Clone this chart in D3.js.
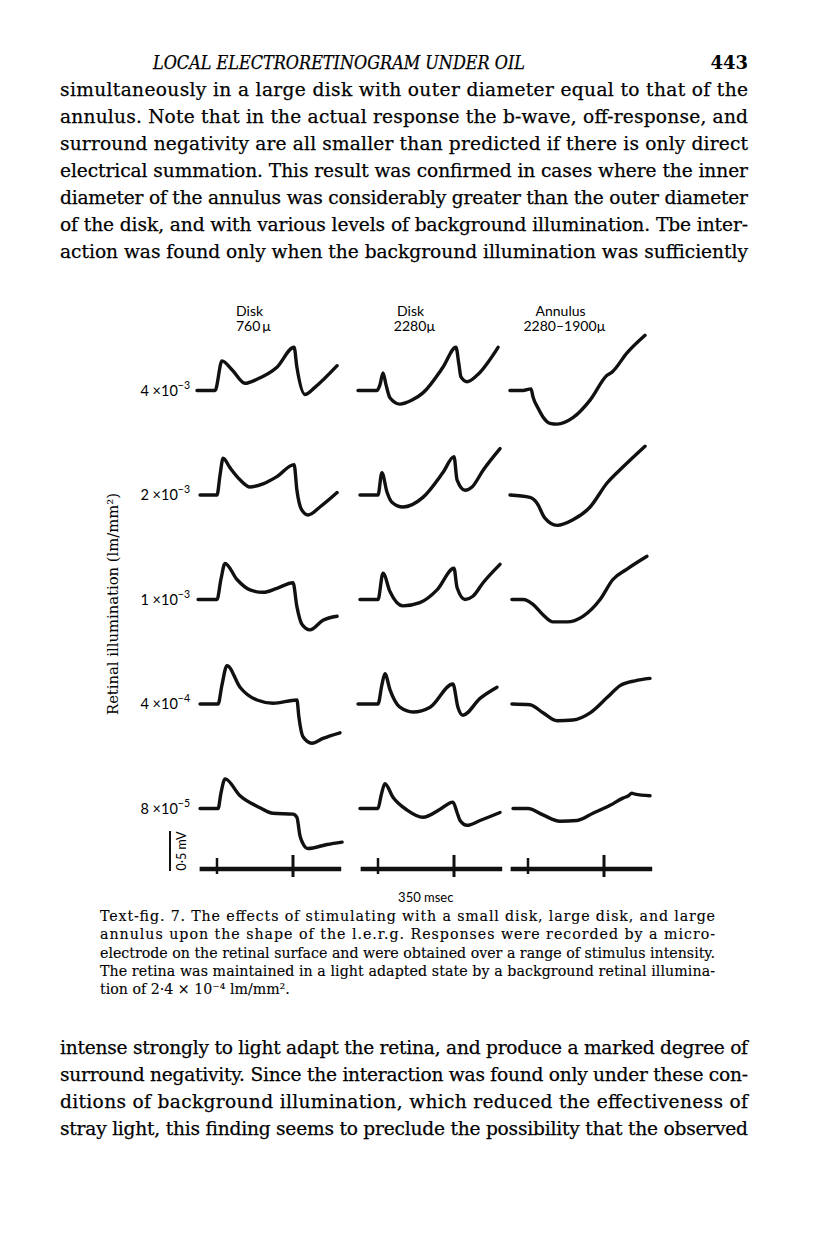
<!DOCTYPE html>
<html>
<head>
<meta charset="utf-8">
<script src="https://cdn.jsdelivr.net/npm/d3@7"></script>
<style>
  body { margin: 0; background: #fff; }
</style>
</head>
<body>
<div id="container"></div>
<script>
// stimulus conditions (columns) and background levels (rows)
var columns = ["disk760", "disk2280", "annulus"];
var colHead1 = ["Disk", "Disk", "Annulus"];
var colHead2 = ["760\u2009\u00b5", "2280\u00b5", "2280\u20131900\u00b5"];
var rowMant = ["4", "2", "1", "4", "8"];
var rowExp = ["\u22123", "\u22123", "\u22123", "\u22124", "\u22125"];

// responses: [msec from stimulus onset, mV], one array per row
var disk760 = [
  [[-92,0],[-9,0],[23,0.37],[69,0.26],[129,0.09],[184,0.14],[276,0.29],[355,0.54],[368,0.29],[405,-0.05],[451,0.04],[553,0.31]],
  [[-78,0],[0,0],[14,0.25],[28,0.46],[60,0.34],[106,0.19],[152,0.10],[212,0.14],[276,0.23],[355,0.38],[368,0.06],[391,-0.19],[419,-0.25],[474,-0.15],[553,0.03]],
  [[-87,0],[0,0],[18,0.25],[37,0.45],[92,0.25],[152,0.12],[212,0.09],[276,0.14],[350,0.21],[368,-0.09],[391,-0.31],[428,-0.38],[488,-0.26],[553,-0.21]],
  [[-78,0],[5,0],[23,0.24],[46,0.48],[106,0.21],[184,0.05],[258,0.01],[368,0.05],[377,-0.16],[396,-0.41],[437,-0.49],[488,-0.43],[566,-0.36]],
  [[-78,0],[5,0],[18,0.19],[37,0.37],[106,0.16],[198,0.01],[258,-0.06],[350,-0.07],[368,-0.11],[382,-0.34],[396,-0.44],[419,-0.50],[507,-0.45],[576,-0.42]]
];
var disk2280 = [
  [[-92,0],[-5,0],[9,0.07],[23,0.22],[37,0.07],[55,-0.09],[101,-0.17],[157,-0.12],[207,-0.03],[299,0.29],[359,0.54],[373,0.32],[382,0.17],[410,0.11],[456,0.19],[553,0.54]],
  [[-83,0],[0,0],[18,0.28],[41,0.04],[64,-0.09],[115,-0.15],[207,-0.03],[299,0.28],[350,0.48],[364,0.19],[401,0.06],[433,0.10],[484,0.31],[562,0.58]],
  [[-83,0],[0,0],[23,0.33],[55,0.10],[115,-0.08],[193,-0.04],[272,0.12],[350,0.39],[364,0.15],[401,0],[437,0.04],[484,0.21],[562,0.44]],
  [[-92,0],[0,0],[18,0.24],[32,0.38],[55,0.18],[101,-0.04],[161,-0.10],[240,-0.04],[345,0.25],[368,-0.04],[391,-0.14],[470,0.07],[548,0.21]],
  [[-83,0],[0,0],[14,0.16],[32,0.31],[69,0.14],[134,-0.02],[207,-0.11],[286,-0.01],[345,0.08],[364,-0.05],[378,-0.15],[410,-0.21],[470,-0.15],[562,-0.05]]
];
var annulus = [
  [[-83,0],[-23,0],[14,0.02],[23,-0.08],[46,-0.22],[69,-0.33],[101,-0.41],[134,-0.42],[207,-0.34],[286,-0.12],[364,0.19],[387,0.23],[456,0.47],[539,0.69]],
  [[-83,0],[9,-0.03],[41,-0.10],[78,-0.29],[134,-0.38],[207,-0.31],[286,-0.15],[364,0.15],[437,0.35],[539,0.61]],
  [[-74,0],[-23,0],[23,-0.06],[69,-0.19],[115,-0.28],[180,-0.28],[253,-0.21],[332,0],[391,0.25],[456,0.38],[548,0.54]],
  [[-74,0],[9,-0.01],[69,-0.11],[134,-0.21],[207,-0.20],[286,-0.11],[364,0.08],[424,0.23],[493,0.29],[562,0.32]],
  [[-69,0],[0,0],[69,-0.08],[147,-0.16],[226,-0.15],[299,-0.06],[378,0.04],[437,0.13],[463,0.16],[478,0.19],[493,0.18],[562,0.16]]
];
var stimMarks = [0, 350];       // msec, light on / off
var stimSpan = [-80, 572];      // msec
var scaleBarMV = 0.5;

var traces = {disk760: disk760, disk2280: disk2280, annulus: annulus};

var headerText = "LOCAL ELECTRORETINOGRAM UNDER OIL";
var topLines = [
  "simultaneously in a large disk with outer diameter equal to that of the",
  "annulus.  Note that in the actual response the b-wave, off-response, and",
  "surround negativity are all smaller than predicted if there is only direct",
  "electrical summation. This result was confirmed in cases where the inner",
  "diameter of the annulus was considerably greater than the outer diameter",
  "of the disk, and with various levels of background illumination. Tbe inter-",
  "action was found only when the background illumination was sufficiently"
];
var captionLines = [
  "Text-fig. 7.  The effects of stimulating with a small disk, large disk, and large",
  "annulus upon the shape of the l.e.r.g.  Responses were recorded by a micro-",
  "electrode on the retinal surface and were obtained over a range of stimulus intensity.",
  "The retina was maintained in a light adapted state by a background retinal illumina-",
  "tion of 2\u00b74 \u00d7 10\u207b\u2074 lm/mm\u00b2."
];
var bottomLines = [
  "intense strongly to light adapt the retina, and produce a marked degree of",
  "surround negativity.  Since the interaction was found only under these con-",
  "ditions of background illumination, which reduced the effectiveness of",
  "stray light, this finding seems to preclude the possibility that the observed"
];

var width = 816, height = 1238;
var serif = "'DejaVu Serif', serif";
var sans = "Lato, 'Open Sans', sans-serif";

var svg = d3.select("#container")
  .append("svg")
    .attr("width", width)
    .attr("height", height);

svg.append("rect").attr("width", width).attr("height", height).attr("fill", "#fff");

// page text
svg.append("text")
  .attr("x", 153).attr("y", 69)
  .attr("textLength", 372).attr("lengthAdjust", "spacingAndGlyphs")
  .style("font-family", serif).style("font-style", "italic").style("font-size", "18px")
  .style("stroke", "#000").style("stroke-width", 0.25)
  .text(headerText);
svg.append("text")
  .attr("x", 748).attr("y", 69).attr("text-anchor", "end")
  .style("font-family", serif).style("font-size", "18px").style("font-weight", "bold")
  .text("443");

function para(lines, x0, len, y0, step, size, lastFull, sw) {
  svg.append("g").selectAll("text")
    .data(lines)
    .enter().append("text")
      .attr("x", x0)
      .attr("y", function(d, i) { return y0 + i * step; })
      .attr("textLength", function(d, i) { return (lastFull || i < lines.length - 1) ? len : null; })
      .attr("lengthAdjust", "spacing")
      .style("font-family", serif).style("font-size", size + "px")
      .style("stroke", "#000").style("stroke-width", sw)
      .text(function(d) { return d; });
}
para(topLines, 60, 688, 96, 27, 18.6, true, 0.25);
para(captionLines, 100, 615, 921, 18.3, 14.2, false, 0.12);
para(bottomLines, 60, 688, 1054, 27, 18.6, true, 0.25);

// figure scales
var x = d3.scaleLinear().domain([0, 350]).range([0, 76]);
var colX = d3.scaleOrdinal().domain(columns).range([217, 378, 528]);
var rowY = d3.scalePoint().domain(d3.range(5)).range([390.5, 808.5]);
var y = d3.scaleLinear().domain([0, 1]).range([0, -80]);
var stimY = 869;

var line = d3.line()
  .x(function(d) { return x(d[0]); })
  .y(function(d) { return y(d[1]); })
  .curve(d3.curveMonotoneX);

// column headings
var heads = svg.append("g").selectAll("g")
  .data(columns)
  .enter().append("g")
    .attr("transform", function(c) { return "translate(" + (colX(c) + x(150)) + ",0)"; })
    .style("font-family", sans).style("font-size", "14px")
    .attr("text-anchor", "middle");
heads.append("text").attr("y", 316).text(function(c, i) { return colHead1[i]; });
heads.append("text").attr("y", 331).attr("dx", 4).text(function(c, i) { return colHead2[i]; });

// row labels
var labels = svg.append("g").selectAll("text")
  .data(rowMant)
  .enter().append("text")
    .attr("x", 190)
    .attr("y", function(d, i) { return rowY(i) + 5; })
    .attr("text-anchor", "end")
    .style("font-family", sans).style("font-size", "14.5px");
labels.append("tspan").text(function(d) { return d + " \u00d710"; });
labels.append("tspan")
  .attr("dy", -7).style("font-size", "10.5px")
  .text(function(d, i) { return rowExp[i]; });

// traces
columns.forEach(function(c) {
  svg.append("g")
    .selectAll("path")
    .data(traces[c])
    .enter().append("path")
      .attr("transform", function(d, i) { return "translate(" + colX(c) + "," + rowY(i) + ")"; })
      .attr("d", line)
      .attr("fill", "none")
      .attr("stroke", "#111")
      .attr("stroke-width", 3.4)
      .attr("stroke-linejoin", "round")
      .attr("stroke-linecap", "round");
});

// stimulus signal
var stim = svg.append("g").selectAll("g")
  .data(columns)
  .enter().append("g")
    .attr("transform", function(c) { return "translate(" + colX(c) + "," + stimY + ")"; });
stim.append("line")
  .attr("x1", x(stimSpan[0])).attr("x2", x(stimSpan[1]))
  .attr("stroke", "#111").attr("stroke-width", 4.5);
stim.selectAll(".tick")
  .data(stimMarks)
  .enter().append("line")
    .attr("class", "tick")
    .attr("x1", x).attr("x2", x)
    .attr("y1", function(d, i) { return i ? -14 : -11; })
    .attr("y2", function(d, i) { return i ? 8 : 5; })
    .attr("stroke", "#111")
    .attr("stroke-width", function(d, i) { return i ? 3 : 2.5; });

svg.append("text")
  .attr("x", colX("disk2280") + x(220)).attr("y", 902)
  .attr("text-anchor", "middle")
  .style("font-family", sans).style("font-size", "13px")
  .text("350 msec");

// voltage scale bar
svg.append("line")
  .attr("x1", 170).attr("x2", 170)
  .attr("y1", stimY + 2).attr("y2", stimY + 2 + y(scaleBarMV))
  .attr("stroke", "#111").attr("stroke-width", 2);
svg.append("text")
  .attr("transform", "translate(186," + (stimY + 2 + y(scaleBarMV / 2)) + ") rotate(-90)")
  .attr("text-anchor", "middle")
  .style("font-family", sans).style("font-size", "12.5px")
  .text("0\u00b75 mV");

// y title
svg.append("text")
  .attr("transform", "translate(118,604) rotate(-90)")
  .attr("text-anchor", "middle")
  .attr("textLength", 222).attr("lengthAdjust", "spacingAndGlyphs")
  .style("font-family", serif).style("font-size", "14px")
  .text("Retinal illumination (lm/mm\u00b2)");
</script>
</body>
</html>
